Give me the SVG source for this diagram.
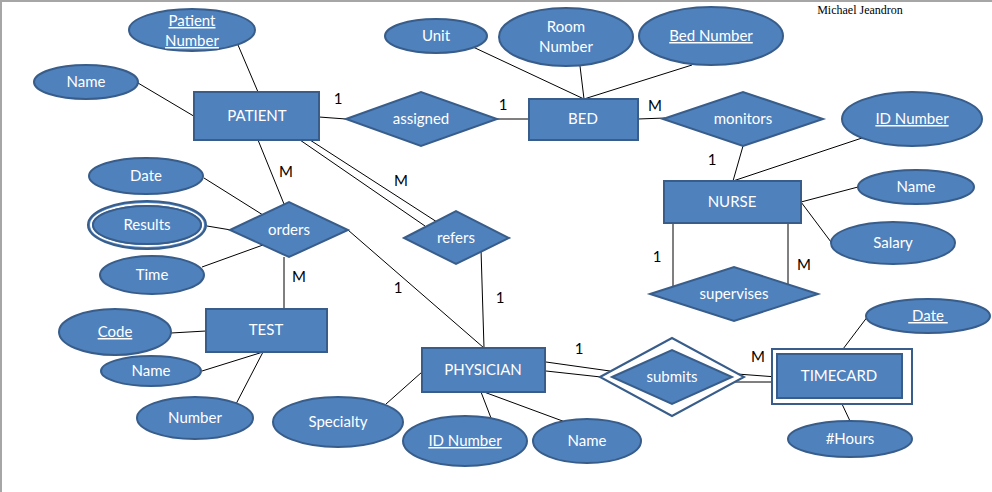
<svg xmlns="http://www.w3.org/2000/svg" width="992" height="492" viewBox="0 0 992 492">
<style>
.n{fill:#4F81BD;stroke:#385D8A;stroke-width:2}
.w{fill:#FFFFFF}
.t{font-family:Lato,"Liberation Sans",sans-serif;font-size:15px;fill:#FFFFFF;text-anchor:middle}
.u{text-decoration:underline}
.l{font-family:Lato,"Liberation Sans",sans-serif;font-size:15px;fill:#000000;text-anchor:middle}
.c line,.c polyline{stroke:#000;stroke-width:1;fill:none}
</style>
<rect x="0" y="0" width="992" height="492" fill="#FFFFFF"/>
<rect x="0" y="0" width="992" height="2" fill="#A6A6A6"/>
<rect x="0" y="0" width="2" height="492" fill="#A6A6A6"/>
<text x="860" y="14" font-family="Liberation Serif,serif" font-size="12" text-anchor="middle" fill="#000">Michael Jeandron</text>
<g class="c" id="connectors">
<line x1="238" y1="45" x2="258" y2="92"/>
<line x1="138" y1="83" x2="197" y2="118"/>
<line x1="319" y1="117" x2="346" y2="119"/>
<line x1="497" y1="119" x2="529" y2="119"/>
<line x1="473" y1="47" x2="584" y2="99"/>
<line x1="580" y1="66" x2="584" y2="99"/>
<line x1="692" y1="65" x2="584" y2="99"/>
<line x1="638" y1="119" x2="665" y2="118"/>
<line x1="743" y1="146" x2="733" y2="181"/>
<line x1="862" y1="138" x2="733" y2="181"/>
<line x1="801" y1="202" x2="858" y2="187"/>
<line x1="801" y1="202" x2="831" y2="242"/>
<line x1="673" y1="223" x2="673" y2="288"/>
<line x1="788" y1="223" x2="788" y2="288"/>
<line x1="300" y1="140" x2="425" y2="226"/>
<line x1="310" y1="140" x2="437" y2="222"/>
<line x1="258" y1="140" x2="284" y2="204"/>
<line x1="284" y1="257" x2="284" y2="309"/>
<line x1="204" y1="178" x2="263" y2="215"/>
<line x1="207" y1="226" x2="231" y2="230"/>
<line x1="202" y1="267" x2="263" y2="245"/>
<line x1="171" y1="333" x2="206" y2="331"/>
<line x1="202" y1="371" x2="263" y2="352"/>
<line x1="236" y1="404" x2="263" y2="352"/>
<line x1="348" y1="230" x2="484" y2="348"/>
<line x1="481" y1="249" x2="484" y2="348"/>
<line x1="386" y1="404" x2="422" y2="372"/>
<line x1="481" y1="392" x2="491" y2="418"/>
<line x1="484" y1="392" x2="568" y2="423"/>
<line x1="546" y1="362" x2="610" y2="371"/>
<line x1="546" y1="371" x2="601" y2="377"/>
<line x1="737" y1="374" x2="777" y2="377"/>
<line x1="735" y1="382" x2="777" y2="382"/>
<line x1="843" y1="349" x2="868" y2="316"/>
<line x1="842" y1="404" x2="850" y2="421"/>
</g>
<g id="labels">
<text class="l" x="338" y="104">1</text>
<text class="l" x="503" y="110">1</text>
<text class="l" x="655" y="111">M</text>
<text class="l" x="712" y="165">1</text>
<text class="l" x="657" y="262">1</text>
<text class="l" x="804" y="270">M</text>
<text class="l" x="401" y="186">M</text>
<text class="l" x="286" y="177">M</text>
<text class="l" x="299" y="282">M</text>
<text class="l" x="398" y="293">1</text>
<text class="l" x="500" y="303">1</text>
<text class="l" x="579" y="354">1</text>
<text class="l" x="758" y="362">M</text>
</g>
<g id="patient"><rect class="n" x="194" y="92" width="125" height="48"/><text class="t" x="257" y="121">PATIENT</text></g>
<g id="patient-number"><ellipse class="n" cx="192" cy="30" rx="63" ry="21"/><text class="t u" x="192" y="26">Patient</text><text class="t u" x="192" y="46">Number</text></g>
<g id="patient-name"><ellipse class="n" cx="86" cy="82" rx="52" ry="17"/><text class="t" x="86" y="87">Name</text></g>
<g id="assigned"><polygon class="n" points="346,119 421,92 497,119 421,146"/><text class="t" x="421" y="124">assigned</text></g>
<g id="bed"><rect class="n" x="529" y="99" width="109" height="41"/><text class="t" x="583" y="124">BED</text></g>
<g id="unit"><ellipse class="n" cx="436" cy="36" rx="51" ry="17"/><text class="t" x="436" y="41">Unit</text></g>
<g id="room-number"><ellipse class="n" cx="566" cy="37" rx="67" ry="29"/><text class="t" x="566" y="32">Room</text><text class="t" x="566" y="52">Number</text></g>
<g id="bed-number"><ellipse class="n" cx="711" cy="36" rx="72" ry="29"/><text class="t u" x="711" y="41">Bed Number</text></g>
<g id="monitors"><polygon class="n" points="663,119 743,92 823,119 743,146"/><text class="t" x="743" y="124">monitors</text></g>
<g id="nurse-id"><ellipse class="n" cx="912" cy="119" rx="70" ry="27"/><text class="t u" x="912" y="124">ID Number</text></g>
<g id="nurse"><rect class="n" x="664" y="181" width="137" height="42"/><text class="t" x="732" y="207">NURSE</text></g>
<g id="nurse-name"><ellipse class="n" cx="916" cy="187" rx="58" ry="17"/><text class="t" x="916" y="192">Name</text></g>
<g id="salary"><ellipse class="n" cx="893" cy="243" rx="62" ry="21"/><text class="t" x="893" y="248">Salary</text></g>
<g id="supervises"><polygon class="n" points="650,294 734,267 818,294 734,321"/><text class="t" x="734" y="299">supervises</text></g>
<g id="orders"><polygon class="n" points="230,230 289,202 348,230 289,257"/><text class="t" x="289" y="235">orders</text></g>
<g id="date"><ellipse class="n" cx="146" cy="176" rx="57" ry="18"/><text class="t" x="146" y="181">Date</text></g>
<g id="results"><ellipse class="n" cx="147" cy="225" rx="59" ry="24"/><ellipse fill="none" stroke="#FFFFFF" stroke-width="2" cx="147" cy="225" rx="56" ry="21"/><ellipse class="n" cx="147" cy="225" rx="54" ry="19"/><text class="t" x="147" y="230">Results</text></g>
<g id="time"><ellipse class="n" cx="152" cy="275" rx="52" ry="19"/><text class="t" x="152" y="280">Time</text></g>
<g id="refers"><polygon class="n" points="404,238 456,211 509,238 456,264"/><text class="t" x="456" y="243">refers</text></g>
<g id="test"><rect class="n" x="206" y="309" width="121" height="43"/><text class="t" x="266" y="335">TEST</text></g>
<g id="code"><ellipse class="n" cx="115" cy="332" rx="56" ry="23"/><text class="t u" x="115" y="337">Code</text></g>
<g id="test-name"><ellipse class="n" cx="151" cy="371" rx="50" ry="15"/><text class="t" x="151" y="376">Name</text></g>
<g id="test-number"><ellipse class="n" cx="195" cy="418" rx="58" ry="21"/><text class="t" x="195" y="423">Number</text></g>
<g id="physician"><rect class="n" x="422" y="348" width="123" height="44"/><text class="t" x="483" y="375">PHYSICIAN</text></g>
<g id="specialty"><ellipse class="n" cx="338" cy="422" rx="65" ry="25"/><text class="t" x="338" y="427">Specialty</text></g>
<g id="physician-id"><ellipse class="n" cx="465" cy="441" rx="62" ry="25"/><text class="t u" x="465" y="446">ID Number</text></g>
<g id="physician-name"><ellipse class="n" cx="587" cy="441" rx="54" ry="22"/><text class="t" x="587" y="446">Name</text></g>
<g id="submits"><polygon fill="#FFFFFF" stroke="#385D8A" stroke-width="2" points="600,377 672,338 744,377 672,416"/><polygon class="n" points="612,377 672,350 732,377 672,404"/><text class="t" x="672" y="382">submits</text></g>
<g id="timecard"><rect fill="#FFFFFF" stroke="#385D8A" stroke-width="2" x="772" y="349" width="140" height="55"/><rect class="n" x="777" y="354" width="125" height="44"/><text class="t" x="839" y="381">TIMECARD</text></g>
<g id="timecard-date"><ellipse class="n" cx="928" cy="316" rx="62" ry="17"/><text class="t u" x="928" y="321" xml:space="preserve"> Date </text></g>
<g id="hours"><ellipse class="n" cx="850" cy="439" rx="62" ry="18"/><text class="t" x="850" y="444">#Hours</text></g>
</svg>
